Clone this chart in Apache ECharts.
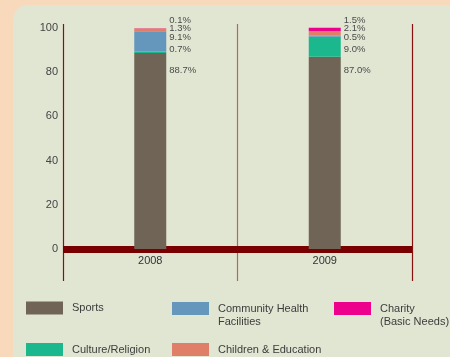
<!DOCTYPE html>
<html>
<head>
<meta charset="utf-8">
<script src="https://cdn.jsdelivr.net/npm/echarts@6/dist/echarts.min.js"></script>
<style>
  html, body { margin: 0; padding: 0; background: #f8d9bc; }
  #chart { width: 450px; height: 357px; }
</style>
</head>
<body>
<div id="chart"></div>
<script>
// Share of donations by purpose (%), per year
const categories = ['2008', '2009'];
const sports = [88.7, 87.0];
const culture = [0.7, 9.0];
const community = [9.1, 0.5];
const children = [1.3, 2.1];
const charity = [0.1, 1.5];
const yTicks = [0, 20, 40, 60, 80, 100];

// stacking order, bottom to top
const seriesDefs = [
  { name: 'Sports', values: sports, color: '#6f6455', legend: 'Sports' },
  { name: 'Culture/Religion', values: culture, color: '#1bb88e', legend: 'Culture/Religion' },
  { name: 'Community Health Facilities', values: community, color: '#6597bd', legend: '\u00a0\nCommunity Health\nFacilities' },
  { name: 'Children & Education', values: children, color: '#e07f68', legend: 'Children & Education' },
  { name: 'Charity (Basic Needs)', values: charity, color: '#ec008c', legend: '\u00a0\nCharity\n(Basic Needs)' }
];

// axis value at which each series' value label row sits (labels are spread out beside the bar)
const labelRows = [80.8, 90.5, 95.8, 99.7, 103.6];

const FONT = "'Liberation Sans', Arial, sans-serif";
const legendNames = {};
seriesDefs.forEach(s => { legendNames[s.name] = s.legend; });

function legendBox(name, left, top) {
  return {
    data: [name],
    left: left,
    top: top,
    padding: 0,
    itemWidth: 37,
    itemHeight: 13,
    icon: 'rect',
    selectedMode: false,
    formatter: n => legendNames[n],
    textStyle: {
      fontFamily: FONT,
      fontSize: 11,
      color: '#3c3c3c',
      lineHeight: 13,
      padding: [0, 0, 0, 4]
    }
  };
}

const chart = echarts.init(document.getElementById('chart'), null, { renderer: 'canvas' });

function buildSeries(offsets) {
  return seriesDefs.map((s, si) => ({
    name: s.name,
    type: 'bar',
    stack: 'total',
    barWidth: 32,
    clip: false,
    itemStyle: { color: s.color },
    label: {
      show: true,
      position: 'right',
      distance: 3,
      fontFamily: FONT,
      fontSize: 9.5,
      color: '#4a4a4a',
      formatter: p => p.value.toFixed(1) + '%'
    },
    data: s.values.map((v, i) => ({
      value: v,
      label: { offset: offsets ? offsets[si][i] : [0, 0] }
    }))
  }));
}

const option = {
  backgroundColor: '#f8d9bc',
  animation: false,
  graphic: [{
    type: 'rect',
    z: -10,
    shape: { x: 13, y: 5, width: 460, height: 370, r: [15, 0, 0, 0] },
    style: { fill: '#e1e6d3' },
    silent: true
  }],
  grid: { left: 63, right: 38, top: 24, bottom: 76 },
  xAxis: {
    type: 'category',
    data: categories,
    axisLine: { onZero: true, lineStyle: { color: '#780000', width: 7, cap: 'butt' } },
    axisTick: { show: false },
    axisLabel: { margin: -26, fontFamily: FONT, fontSize: 11, color: '#333' },
    splitLine: {
      show: true,
      interval: 0,
      lineStyle: { color: ['#8a1010', '#ad6a60'], width: 1.2 }
    }
  },
  yAxis: {
    type: 'value',
    min: -14.5,
    max: 101.8,
    axisLine: { show: false },
    axisTick: { show: false },
    splitLine: { show: false },
    axisLabel: {
      customValues: yTicks,
      margin: 5,
      fontFamily: FONT,
      fontSize: 11,
      color: '#444'
    }
  },
  legend: [
    legendBox('Sports', 26, 301.5),
    legendBox('Community Health Facilities', 172, 289),
    legendBox('Charity (Basic Needs)', 334, 289),
    legendBox('Culture/Religion', 26, 343),
    legendBox('Children & Education', 172, 343)
  ],
  series: buildSeries(null)
};

chart.setOption(option);

// place each value label on its row beside the bar, using the axis scale
const offsets = seriesDefs.map((s, si) => s.values.map((v, i) => {
  let base = 0;
  for (let k = 0; k < si; k++) base += seriesDefs[k].values[i];
  const midPx = chart.convertToPixel({ yAxisIndex: 0 }, base + v / 2);
  const rowPx = chart.convertToPixel({ yAxisIndex: 0 }, labelRows[si]);
  return [0, rowPx - midPx];
}));
chart.setOption({ series: buildSeries(offsets) });
</script>
</body>
</html>
